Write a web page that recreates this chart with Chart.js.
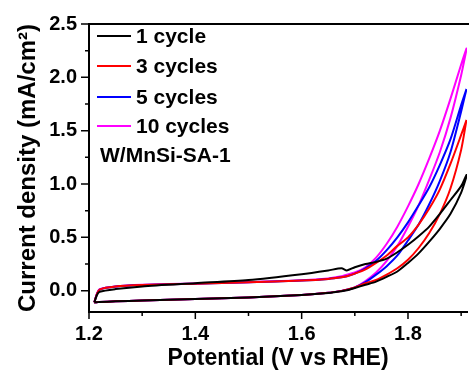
<!DOCTYPE html>
<html lang="en">
<head>
  <meta charset="UTF-8">
  <title>CV cycles W/MnSi-SA-1</title>
  <script src="https://cdn.jsdelivr.net/npm/chart.js"></script>
  <style>
    html, body {
      margin: 0;
      padding: 0;
      background: #fff;
    }
    #wrap {
      width: 469px;
      height: 378px;
    }
  </style>
</head>
<body>
  <div id="wrap"><canvas id="cv"></canvas></div>

  <script>
    // Potential grid (V vs RHE), shared by both scan branches
    const potential = [1.21, 1.215, 1.22, 1.25, 1.30, 1.40, 1.50, 1.60, 1.65, 1.675, 1.685, 1.70,
                       1.72, 1.74, 1.76, 1.78, 1.80, 1.82, 1.84, 1.86, 1.88, 1.90, 1.91];

    // Current density (mA/cm2): lower branch read left to right, upper branch read left to right
    const cycle1Lower = [-0.11, -0.108, -0.106, -0.100, -0.092, -0.078, -0.063, -0.040, -0.022, -0.006, 0.004, 0.025,
                         0.055, 0.085, 0.13, 0.18, 0.26, 0.35, 0.46, 0.58, 0.72, 0.92, 1.07];
    const cycle1Upper = [-0.11, -0.04, -0.01, 0.015, 0.04, 0.07, 0.10, 0.155, 0.19, 0.21, 0.19, 0.22,
                         0.25, 0.27, 0.30, 0.36, 0.43, 0.51, 0.60, 0.72, 0.85, 0.98, 1.085];
    const cycle3Lower = [-0.11, -0.108, -0.106, -0.100, -0.092, -0.078, -0.063, -0.040, -0.020, -0.002, 0.008, 0.030,
                         0.07, 0.10, 0.15, 0.21, 0.29, 0.40, 0.54, 0.72, 0.96, 1.32, 1.60];
    const cycle3Upper = [-0.11, -0.03, 0.01, 0.038, 0.052, 0.066, 0.078, 0.095, 0.11, 0.125, 0.135, 0.16,
                         0.20, 0.26, 0.33, 0.42, 0.50, 0.62, 0.77, 0.95, 1.19, 1.46, 1.60];
    const cycle5Lower = [-0.11, -0.108, -0.106, -0.100, -0.092, -0.078, -0.063, -0.040, -0.020, -0.002, 0.008, 0.030,
                         0.08, 0.15, 0.23, 0.33, 0.47, 0.62, 0.81, 1.03, 1.30, 1.68, 1.89];
    const cycle5Upper = [-0.11, -0.03, 0.01, 0.038, 0.052, 0.066, 0.078, 0.095, 0.11, 0.125, 0.135, 0.16,
                         0.21, 0.28, 0.38, 0.50, 0.64, 0.80, 0.97, 1.18, 1.42, 1.74, 1.89];
    const cycle10Lower = [-0.11, -0.108, -0.106, -0.100, -0.092, -0.078, -0.063, -0.040, -0.020, -0.002, 0.008, 0.030,
                          0.09, 0.17, 0.28, 0.42, 0.60, 0.80, 1.04, 1.30, 1.62, 2.02, 2.26];
    const cycle10Upper = [-0.11, -0.025, 0.015, 0.04, 0.055, 0.068, 0.08, 0.097, 0.115, 0.135, 0.15, 0.17,
                          0.22, 0.31, 0.44, 0.60, 0.79, 1.00, 1.24, 1.50, 1.80, 2.12, 2.27];

    const seriesNames = ['1 cycle', '3 cycles', '5 cycles', '10 cycles'];
    const seriesColors = ['#000000', '#ff0000', '#0000ff', '#ff00ff'];
    const sampleName = 'W/MnSi-SA-1';

    const xTicks = [1.2, 1.4, 1.6, 1.8];
    const xMinorTicks = [1.3, 1.5, 1.7, 1.9];
    const yTicks = [0.0, 0.5, 1.0, 1.5, 2.0, 2.5];
    const yMinorTicks = [0.25, 0.75, 1.25, 1.75, 2.25];

    const FONT = '"Liberation Sans", Arial, sans-serif';

    // Closed loop: lower branch going up in potential, upper branch coming back
    function loop(lower, upper) {
      const pts = potential.map((v, i) => ({ x: v, y: lower[i] }));
      for (let i = potential.length - 1; i >= 0; i--) {
        pts.push({ x: potential[i], y: upper[i] });
      }
      return pts;
    }

    const branches = [
      [cycle1Lower, cycle1Upper],
      [cycle3Lower, cycle3Upper],
      [cycle5Lower, cycle5Upper],
      [cycle10Lower, cycle10Upper]
    ];

    const datasets = branches.map((b, i) => ({
      label: seriesNames[i],
      data: loop(b[0], b[1]),
      borderColor: seriesColors[i],
      borderWidth: 2,
      pointRadius: 0,
      showLine: true,
      fill: false,
      tension: 0.25
    }));

    // Tick marks, top frame line and the in-plot legend
    const decorations = {
      id: 'decorations',
      afterDraw(chart) {
        const ctx = chart.ctx;
        const xs = chart.scales.x;
        const ys = chart.scales.y;
        const area = chart.chartArea;
        ctx.save();
        ctx.strokeStyle = '#000';
        ctx.lineWidth = 2;
        ctx.beginPath();
        ctx.moveTo(area.left - 1, area.top);
        ctx.lineTo(area.right + 2, area.top);
        ctx.stroke();

        ctx.lineWidth = 1.5;
        ctx.beginPath();
        xTicks.forEach(v => {
          const px = xs.getPixelForValue(v);
          ctx.moveTo(px, area.bottom);
          ctx.lineTo(px, area.bottom + 7);
        });
        xMinorTicks.forEach(v => {
          const px = xs.getPixelForValue(v);
          ctx.moveTo(px, area.bottom);
          ctx.lineTo(px, area.bottom + 4);
        });
        yTicks.forEach(v => {
          const py = ys.getPixelForValue(v);
          ctx.moveTo(area.left, py);
          ctx.lineTo(area.left - 8, py);
        });
        yMinorTicks.forEach(v => {
          const py = ys.getPixelForValue(v);
          ctx.moveTo(area.left, py);
          ctx.lineTo(area.left - 4, py);
        });
        ctx.stroke();

        // legend
        const rows = [36, 66, 97, 126];
        ctx.font = 'bold 21px ' + FONT;
        ctx.textBaseline = 'middle';
        ctx.textAlign = 'left';
        seriesNames.forEach((name, i) => {
          ctx.strokeStyle = seriesColors[i];
          ctx.lineWidth = 2;
          ctx.beginPath();
          ctx.moveTo(97, rows[i]);
          ctx.lineTo(131, rows[i]);
          ctx.stroke();
          ctx.fillStyle = '#000';
          ctx.fillText(name, 136, rows[i] + 1);
        });
        ctx.fillText(sampleName, 100, 156);
        ctx.restore();
      }
    };

    new Chart(document.getElementById('cv'), {
      type: 'scatter',
      data: { datasets },
      options: {
        responsive: true,
        maintainAspectRatio: false,
        animation: false,
        layout: { padding: { top: 16, right: 2, left: 0, bottom: 0 } },
        plugins: {
          legend: { display: false },
          tooltip: { enabled: false }
        },
        scales: {
          x: {
            type: 'linear',
            min: 1.2,
            max: 1.911,
            afterBuildTicks: s => { s.ticks = xTicks.map(v => ({ value: v })); },
            afterFit: s => { s.height = 66; },
            grid: { display: false, drawTicks: false },
            border: { display: true, color: '#000', width: 2 },
            ticks: {
              color: '#000',
              padding: 10,
              maxRotation: 0,
              font: { family: FONT, size: 20, weight: 'bold' },
              callback: v => v.toFixed(1)
            },
            title: {
              display: true,
              text: 'Potential (V vs RHE)',
              color: '#000',
              font: { family: FONT, size: 23, weight: 'bold' },
              padding: { top: 0, bottom: 6 }
            }
          },
          y: {
            type: 'linear',
            min: -0.2,
            max: 2.5,
            afterBuildTicks: s => { s.ticks = yTicks.map(v => ({ value: v })); },
            afterFit: s => { s.width = 89; },
            grid: { display: false, drawTicks: false },
            border: { display: true, color: '#000', width: 2 },
            ticks: {
              color: '#000',
              padding: 12,
              font: { family: FONT, size: 20, weight: 'bold' },
              callback: v => v.toFixed(1)
            },
            title: {
              display: true,
              text: 'Current density (mA/cm\u00b2)',
              color: '#000',
              font: { family: FONT, size: 24, weight: 'bold' },
              padding: { top: 14, bottom: 0 }
            }
          }
        }
      },
      plugins: [decorations]
    });
  </script>
</body>
</html>
